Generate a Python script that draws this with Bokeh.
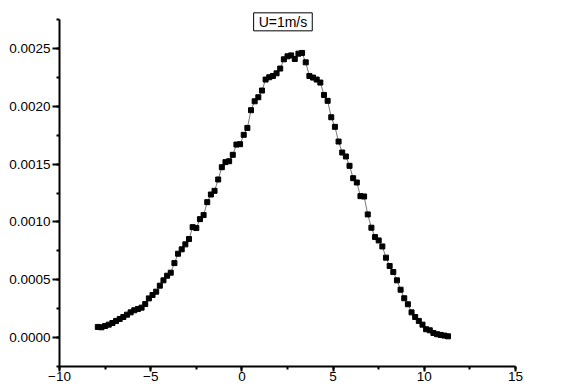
from bokeh.plotting import figure
from bokeh.models import Range1d, SingleIntervalTicker, NumeralTickFormatter, Label, ColumnDataSource
from bokeh.embed import file_html
from bokeh.resources import INLINE

title_text = "U=1m/s"

x_vals = [-7.9, -7.7, -7.5, -7.3, -7.1, -6.9, -6.7, -6.5, -6.3, -6.1,
          -5.9, -5.7, -5.5, -5.3, -5.1, -4.9, -4.7, -4.5, -4.3, -4.1,
          -3.9, -3.7, -3.5, -3.3, -3.1, -2.9, -2.7, -2.5, -2.3, -2.1,
          -1.9, -1.7, -1.5, -1.3, -1.1, -0.9, -0.7, -0.5, -0.3, -0.1,
          0.1, 0.3, 0.5, 0.7, 0.9, 1.1, 1.3, 1.5, 1.7, 1.9,
          2.1, 2.3, 2.5, 2.7, 2.9, 3.1, 3.3, 3.5, 3.7, 3.9,
          4.1, 4.3, 4.5, 4.7, 4.9, 5.1, 5.3, 5.5, 5.7, 5.9,
          6.1, 6.3, 6.5, 6.7, 6.9, 7.1, 7.3, 7.5, 7.7, 7.9,
          8.1, 8.3, 8.5, 8.7, 8.9, 9.1, 9.3, 9.5, 9.7, 9.9,
          10.1, 10.3, 10.5, 10.7, 10.9, 11.1, 11.3]

y_vals = [0.000092, 0.000089, 0.000100, 0.000112, 0.000126, 0.000144, 0.000161, 0.000178, 0.000198, 0.000218,
          0.000236, 0.000247, 0.000259, 0.000290, 0.000339, 0.000368, 0.000397, 0.000449, 0.000495, 0.000535,
          0.000561, 0.000644, 0.000725, 0.000763, 0.000806, 0.000852, 0.000955, 0.000947, 0.001024, 0.001059,
          0.001171, 0.001237, 0.001269, 0.001367, 0.001473, 0.001517, 0.001525, 0.001580, 0.001669, 0.001672,
          0.001753, 0.001813, 0.001966, 0.002043, 0.002078, 0.002136, 0.002231, 0.002251, 0.002262, 0.002285,
          0.002326, 0.002406, 0.002432, 0.002440, 0.002409, 0.002455, 0.002461, 0.002380, 0.002262, 0.002248,
          0.002231, 0.002205, 0.002098, 0.002047, 0.001905, 0.001822, 0.001695, 0.001600, 0.001566, 0.001485,
          0.001378, 0.001341, 0.001223, 0.001220, 0.001065, 0.000950, 0.000869, 0.000840, 0.000788, 0.000691,
          0.000619, 0.000567, 0.000495, 0.000414, 0.000340, 0.000288, 0.000218, 0.000178, 0.000144, 0.000112,
          0.000072, 0.000063, 0.000040, 0.000029, 0.000023, 0.000017, 0.000011]

x_range = (-10, 15)
y_axis_bounds = (-0.00025, 0.00275)
y_range = (-0.00025, 0.002828)

src = ColumnDataSource(data=dict(x=x_vals, y=y_vals))

p = figure(width=560, height=389, output_backend="svg", toolbar_location=None,
           x_range=Range1d(*x_range), y_range=Range1d(*y_range),
           min_border_left=59, min_border_right=45, min_border_top=10, min_border_bottom=23)

p.outline_line_color = None
p.xgrid.visible = False
p.ygrid.visible = False
p.background_fill_color = "white"
p.border_fill_color = "white"

p.line("x", "y", source=src, line_color="#555555", line_width=0.8)
p.scatter("x", "y", source=src, marker="square", size=5, fill_color="black", line_color="black")

font = "Liberation Sans"
p.xaxis.ticker = SingleIntervalTicker(interval=5, num_minor_ticks=2)
p.yaxis.ticker = SingleIntervalTicker(interval=0.0005, num_minor_ticks=2)
p.yaxis.formatter = NumeralTickFormatter(format="0.0000")
p.yaxis.bounds = y_axis_bounds

for ax in (p.xaxis[0], p.yaxis[0]):
    ax.axis_line_width = 2
    ax.axis_line_color = "black"
    ax.major_tick_line_width = 2
    ax.minor_tick_line_width = 2
    ax.major_tick_line_color = "black"
    ax.minor_tick_line_color = "black"
    ax.major_tick_in = 0
    ax.minor_tick_in = 0
    ax.major_label_text_font = font
    ax.major_label_text_font_size = "13.5px"
    ax.major_label_text_color = "black"

p.xaxis.major_tick_out = 5
p.xaxis.minor_tick_out = 3
p.xaxis.major_label_standoff = 0
p.yaxis.major_tick_out = 7
p.yaxis.minor_tick_out = 3
p.yaxis.major_label_standoff = 2

lbl = Label(x=2.25, y=0.00273, text=title_text, text_align="center", text_baseline="middle",
            text_font=font, text_font_size="14px", text_color="black",
            border_line_color="black", border_line_width=1, background_fill_color="white",
            padding=(5, 1))
p.add_layout(lbl)

open("out.html", "w").write(file_html(p, INLINE))
